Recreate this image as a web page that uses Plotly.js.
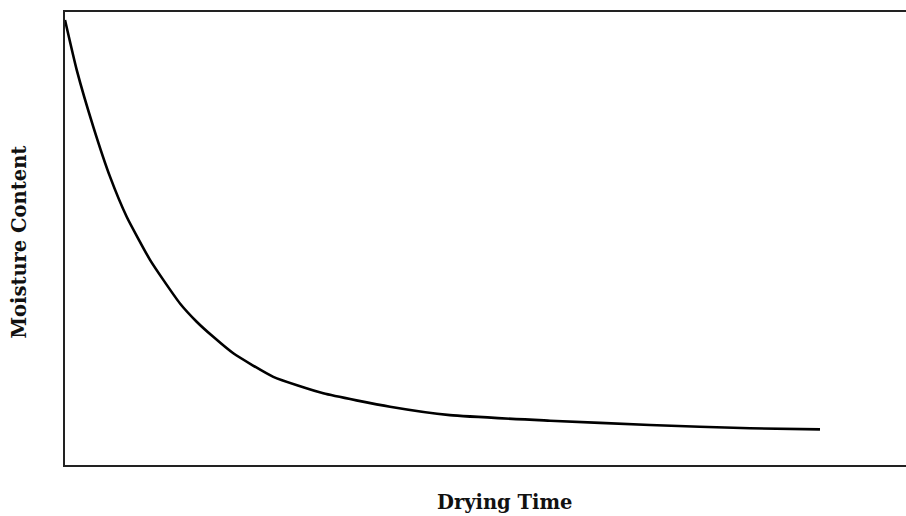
<!DOCTYPE html>
<html>
<head>
<meta charset="utf-8">
<script src="https://cdn.plot.ly/plotly-3.0.1.min.js"></script>
<style>html,body{margin:0;padding:0;background:#fff;}#chart{width:906px;height:516px;}</style>
</head>
<body>
<div id="chart"></div>
<script>
// Drying time (arbitrary units) and moisture content (relative)
const dryingTime = [0, 0.155, 0.375, 0.596, 0.817, 1.126, 1.302, 1.523, 1.744, 1.964, 2.229, 2.759, 3.421, 4.305, 5.099, 6.424, 7.748, 9.073, 10.0];
const moisture   = [1.0, 0.888, 0.760, 0.648, 0.558, 0.461, 0.416, 0.363, 0.322, 0.288, 0.251, 0.198, 0.161, 0.131, 0.112, 0.0996, 0.090, 0.0825, 0.080];
const xLabel = "Drying Time";
const yLabel = "Moisture Content";

const trace = {
  x: dryingTime, y: moisture, type: "scatter", mode: "lines",
  line: {color: "#000", width: 2.6, shape: "spline", smoothing: 0.5},
  hoverinfo: "skip"
};
const titleFont = {family: "DejaVu Serif", size: 19.5, color: "#111", weight: "bold"};
const layout = {
  width: 906, height: 516,
  margin: {l: 65, r: 0, t: 12, b: 51, pad: 0},
  paper_bgcolor: "#fff", plot_bgcolor: "#fff",
  showlegend: false,
  xaxis: {range: [0, 11.139], showgrid: false, zeroline: false, showticklabels: false, ticks: "",
          showline: true, mirror: true, linecolor: "#222", linewidth: 2},
  yaxis: {range: [0, 1.018], showgrid: false, zeroline: false, showticklabels: false, ticks: "",
          showline: true, mirror: false, linecolor: "#222", linewidth: 2},
  annotations: [
    {text: xLabel, xref: "paper", yref: "paper", x: 0.522, y: -0.0838, xanchor: "center", yanchor: "middle",
     showarrow: false, font: titleFont},
    {text: yLabel, xref: "paper", yref: "paper", x: -0.0535, y: 0.491, xanchor: "center", yanchor: "middle", textangle: -90,
     showarrow: false, font: titleFont}
  ]
};
Plotly.newPlot("chart", [trace], layout, {staticPlot: true, displayModeBar: false});
</script>
</body>
</html>
